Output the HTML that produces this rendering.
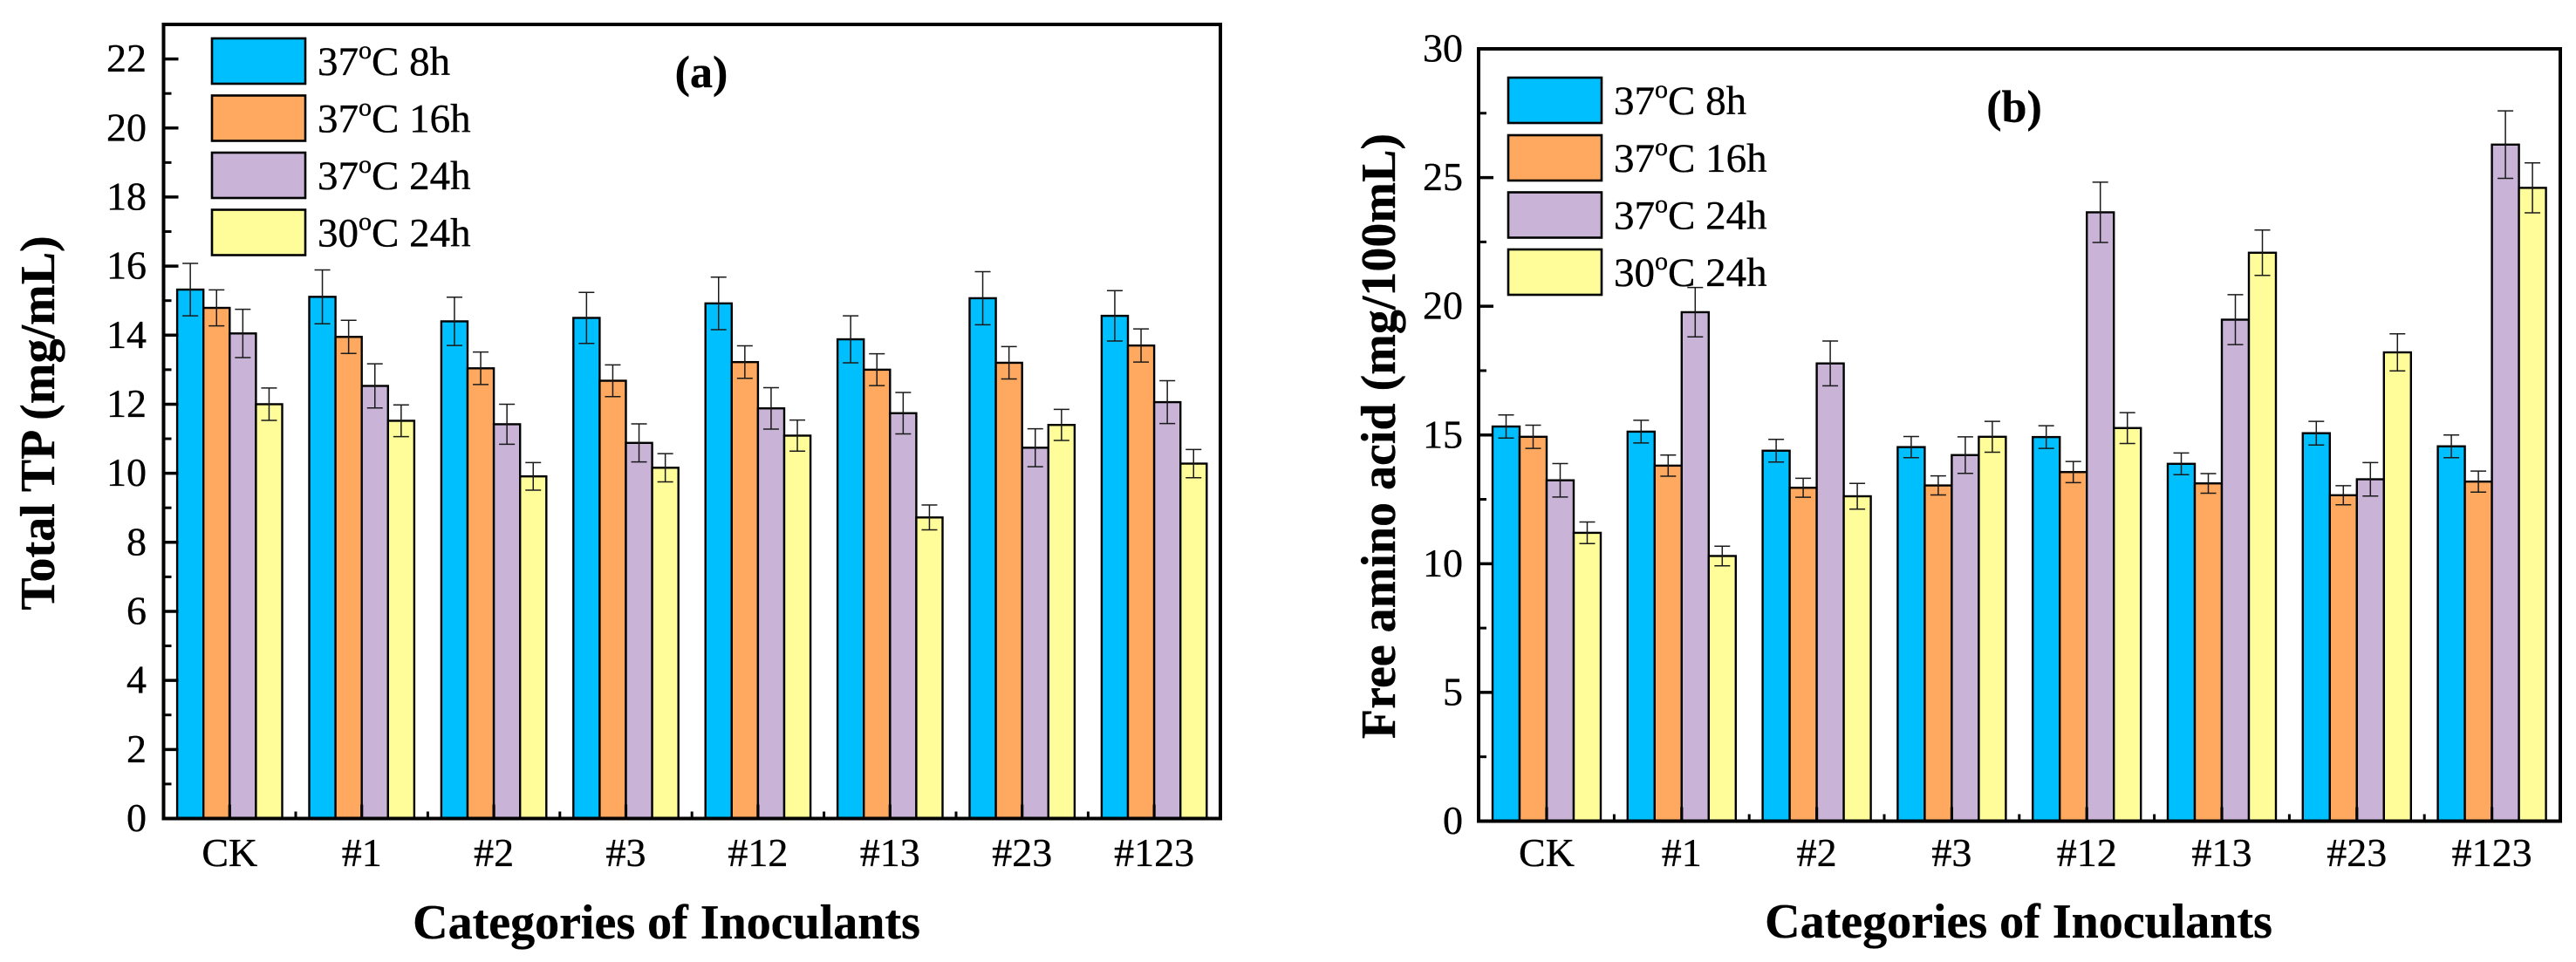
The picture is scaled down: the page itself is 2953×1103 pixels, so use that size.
<!DOCTYPE html>
<html lang="en">
<head>
<meta charset="utf-8">
<title>Total TP and free amino acid by inoculant</title>
<style>
html,body{margin:0;padding:0;background:#fff;width:2953px;height:1103px;overflow:hidden}
svg{display:block}
text{font-family:"Liberation Serif",serif;fill:#000;stroke:#000;stroke-width:0.35px}
</style>
</head>
<body>
<svg id="figure" xmlns="http://www.w3.org/2000/svg" width="2953" height="1103" viewBox="0 0 2953 1103"></svg>
<script>
const categories = ["CK", "#1", "#2", "#3", "#12", "#13", "#23", "#123"];
const legendTemps = ["37", "37", "37", "30"];
const legendDurations = ["8h", "16h", "24h", "24h"];
const seriesKeys = ["37c-8h", "37c-16h", "37c-24h", "30c-24h"];
const seriesColors = ["#00BFFF", "#FFA960", "#C9B4D8", "#FFFD99"];

const tp8h = [15.32, 15.11, 14.40, 14.50, 14.92, 13.88, 15.07, 14.56];
const tp16h = [14.79, 13.95, 13.04, 12.68, 13.22, 13.00, 13.20, 13.70];
const tp24h = [14.05, 12.53, 11.42, 10.88, 11.88, 11.74, 10.74, 12.06];
const tp30c = [12.00, 11.52, 9.91, 10.16, 11.09, 8.72, 11.40, 10.28];
const tpErr8h = [0.76, 0.78, 0.70, 0.74, 0.76, 0.68, 0.77, 0.73];
const tpErr16h = [0.52, 0.48, 0.47, 0.46, 0.47, 0.46, 0.47, 0.48];
const tpErr24h = [0.70, 0.64, 0.58, 0.55, 0.60, 0.60, 0.55, 0.62];
const tpErr30c = [0.47, 0.46, 0.40, 0.41, 0.45, 0.36, 0.45, 0.41];

const aa8h = [15.33, 15.13, 14.39, 14.53, 14.92, 13.88, 15.07, 14.56];
const aa16h = [14.93, 13.81, 12.95, 13.04, 13.56, 13.12, 12.66, 13.19];
const aa24h = [13.24, 19.77, 17.78, 14.22, 23.65, 19.48, 13.28, 26.28];
const aa30c = [11.20, 10.30, 12.62, 14.93, 15.27, 22.08, 18.21, 24.60];
const aaErr8h = [0.45, 0.44, 0.44, 0.41, 0.44, 0.42, 0.46, 0.44];
const aaErr16h = [0.45, 0.41, 0.37, 0.37, 0.41, 0.38, 0.37, 0.41];
const aaErr24h = [0.65, 0.96, 0.87, 0.71, 1.17, 0.97, 0.65, 1.31];
const aaErr30c = [0.42, 0.38, 0.50, 0.60, 0.60, 0.88, 0.72, 0.97];

const tpTicks = [0, 2, 4, 6, 8, 10, 12, 14, 16, 18, 20, 22];
const tpMinorTicks = [1, 3, 5, 7, 9, 11, 13, 15, 17, 19, 21];
const aaTicks = [0, 5, 10, 15, 20, 25, 30];
const aaMinorTicks = [2.5, 7.5, 12.5, 17.5, 22.5, 27.5];

const NS = "http://www.w3.org/2000/svg";
const figure = document.getElementById("figure");

function mk(tag, attrs, parent, txt) {
  const el = document.createElementNS(NS, tag);
  for (const k in attrs) el.setAttribute(k, attrs[k]);
  if (txt !== undefined) el.textContent = txt;
  parent.appendChild(el);
  return el;
}

function drawPanel(p) {
  const panel = mk("g", {}, figure);
  
  

  const yScale = v => p.bottom - (v - p.yMin) / (p.yMax - p.yMin) * (p.bottom - p.top);
  const xCenter = i => p.firstCenter + i * p.period;
  const xBar = (i, s) => xCenter(i) + (s - 2) * p.barWidth;

  const barsLayer = mk("g", {}, panel);
  
  

  p.series.forEach((vals, s) => {
    vals.forEach((v, i) => {
      const bar = mk("rect", {
        x: xBar(i, s), y: yScale(v), width: p.barWidth, height: p.bottom - yScale(v),
        fill: seriesColors[s], stroke: "#000", "stroke-width": 2.4
      }, barsLayer);
      
      
    });
  });

  const errLayer = mk("g", {stroke: "#1a1a1a", "stroke-width": 1.5, fill: "none"}, panel);
  
  

  p.errors.forEach((errs, s) => {
    errs.forEach((e, i) => {
      const cx = xBar(i, s) + p.barWidth / 2;
      const v = p.series[s][i];
      const d = "M" + cx + " " + yScale(v + e) + "V" + yScale(v - e)
        + "M" + (cx - 9) + " " + yScale(v + e) + "H" + (cx + 9)
        + "M" + (cx - 9) + " " + yScale(v - e) + "H" + (cx + 9);
      const eb = mk("path", {d: d}, errLayer);
      
      
    });
  });

  const yAxis = mk("g", {}, panel);
  
  

  p.ticks.forEach(t => {
    if (t !== p.yMax && t !== p.yMin) {
      const tick = mk("line", {x1: p.left, x2: p.left + 17, y1: yScale(t), y2: yScale(t), stroke: "#000", "stroke-width": 3.5}, yAxis);
      
      
    }
    const lab = mk("text", {x: p.tickLabelX, y: yScale(t) + 14.5, "text-anchor": "end", "font-size": 46}, yAxis, String(t));
    
    
  });
  p.minorTicks.forEach(t => {
    const tick = mk("line", {x1: p.left, x2: p.left + 9, y1: yScale(t), y2: yScale(t), stroke: "#000", "stroke-width": 3}, yAxis);
    
    
  });

  const xAxis = mk("g", {}, panel);
  
  

  categories.forEach((c, i) => {
    const tick = mk("line", {x1: xCenter(i), x2: xCenter(i), y1: p.bottom, y2: p.bottom - 16, stroke: "#000", "stroke-width": 3.2}, xAxis);
    
    
    if (i < categories.length - 1) {
      const minor = mk("line", {x1: xCenter(i + 0.5), x2: xCenter(i + 0.5), y1: p.bottom, y2: p.bottom - 8, stroke: "#000", "stroke-width": 3}, xAxis);
      
      
    }
    const lab = mk("text", {x: xCenter(i), y: 993, "text-anchor": "middle", "font-size": 46}, xAxis, c);
    
    
  });

  const frame = mk("rect", {x: p.left, y: p.top, width: p.right - p.left, height: p.bottom - p.top, fill: "none", stroke: "#000", "stroke-width": 4}, panel);
  
  

  const legend = mk("g", {}, panel);
  
  

  legendTemps.forEach((temp, s) => {
    const sw = mk("rect", {
      x: p.legendX, y: p.legendTops[s], width: p.legendW, height: 52,
      fill: seriesColors[s], stroke: "#000", "stroke-width": 2.6
    }, legend);
    
    

    const t = mk("text", {x: p.legendTextX, y: p.legendTops[s] + 42, "font-size": 47}, legend);
    
    
    mk("tspan", {}, t, temp);
    mk("tspan", {dy: -19, "font-size": 30}, t, "o");
    mk("tspan", {dy: 19}, t, "C " + legendDurations[s]);
  });

  const panelLabel = mk("text", {x: p.tagX, y: p.tagY, "text-anchor": "middle", "font-size": 52, "font-weight": "bold"}, panel, p.tag);
  
  

  const xTitle = mk("text", {x: p.xTitleX, y: p.xTitleY, "text-anchor": "middle", "font-size": 56, "font-weight": "bold"}, panel, "Categories of Inoculants");
  
  

  const yTitle = mk("text", {
    transform: "translate(" + p.yTitleX + " " + p.yTitleY + ") rotate(-90)",
    "text-anchor": "middle", "font-size": 56, "font-weight": "bold"
  }, panel, p.yTitle);
  
  
}

drawPanel({
  id: "total-tp", tag: "(a)", yTitle: "Total TP (mg/mL)",
  left: 187.5, right: 1399, top: 28, bottom: 938.5, yMin: 0, yMax: 23,
  firstCenter: 263.3, period: 151.4, barWidth: 30.1, tickLabelX: 168,
  ticks: tpTicks, minorTicks: tpMinorTicks,
  series: [tp8h, tp16h, tp24h, tp30c], errors: [tpErr8h, tpErr16h, tpErr24h, tpErr30c],
  legendX: 243, legendW: 107, legendTops: [44, 109.5, 175, 240.5], legendTextX: 364,
  tagX: 804, tagY: 100, xTitleX: 764, xTitleY: 1076, yTitleX: 62, yTitleY: 485
});

drawPanel({
  id: "free-amino-acid", tag: "(b)", yTitle: "Free amino acid (mg/100mL)",
  left: 1695, right: 2935, top: 56, bottom: 941.5, yMin: 0, yMax: 30,
  firstCenter: 1773, period: 154.8, barWidth: 31, tickLabelX: 1677,
  ticks: aaTicks, minorTicks: aaMinorTicks,
  series: [aa8h, aa16h, aa24h, aa30c], errors: [aaErr8h, aaErr16h, aaErr24h, aaErr30c],
  legendX: 1729, legendW: 107, legendTops: [89, 155, 220.5, 286], legendTextX: 1850,
  tagX: 2309, tagY: 139.5, xTitleX: 2314, xTitleY: 1075, yTitleX: 1599, yTitleY: 500
});
</script>
</body>
</html>
